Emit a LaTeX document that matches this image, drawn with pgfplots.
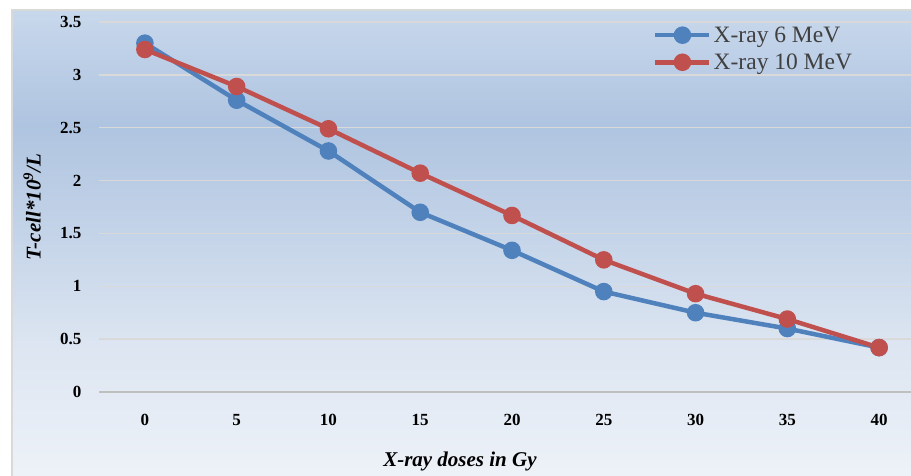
\documentclass[border=0pt]{standalone}
\usepackage{pgfplots}
\pgfplotsset{compat=1.18}
\usepackage{fontspec}
\setmainfont{Liberation Serif}
\definecolor{c6}{HTML}{4F81BD}
\definecolor{c10}{HTML}{C0504D}
\definecolor{gridc}{HTML}{D9D9D9}
\definecolor{axisc}{HTML}{BFBFBF}
\definecolor{legtext}{HTML}{404040}
\definecolor{bg0}{HTML}{EFF3F9}
\definecolor{bg1}{HTML}{DCE5F1}
\definecolor{bg2}{HTML}{C3D3E8}
\definecolor{bg3}{HTML}{AFC4E0}
\definecolor{bg4}{HTML}{C8D8EC}
\pgfdeclareverticalshading{chartbg}{100bp}{color(0bp)=(bg0); color(25bp)=(bg0); color(40bp)=(bg1); color(52bp)=(bg2); color(63bp)=(bg3); color(75bp)=(bg4); color(100bp)=(bg4)}
\begin{document}
\begin{tikzpicture}[x=1pt,y=1pt]
\shade[shading=chartbg] (12,-10) rectangle (930,466);
\draw[line width=1.5pt,color=gridc] (12,-10) -- (12,466) -- (930,466);
\begin{axis}[
  at={(99pt,84pt)}, anchor=south west,
  scale only axis, width=826pt, height=370pt,
  xmin=-0.5, xmax=8.5, ymin=0, ymax=3.5,
  xtick={0,1,2,3,4,5,6,7,8},
  xticklabels={0,5,10,15,20,25,30,35,40},
  ytick={0,0.5,1,1.5,2,2.5,3,3.5},
  yticklabels={0,0.5,1,1.5,2,2.5,3,3.5},
  major tick length=0pt,
  axis x line*=bottom,
  axis y line*=left,
  y axis line style={draw=none},
  x axis line style={color=axisc, line width=1.2pt, -},
  ymajorgrids,
  grid style={line width=1.5pt, color=gridc},
  ticklabel style={font=\fontsize{17}{20}\selectfont\bfseries, text=black},
  xticklabel style={yshift=-19pt},
  yticklabel style={xshift=-14pt},
  xlabel={X-ray doses in Gy},
  ylabel={T-cell*10\textsuperscript{9}/L},
  label style={font=\fontsize{21}{25}\selectfont\bfseries\itshape},
  xlabel style={at={(rel axis cs:0.437,-0.189)}, anchor=center},
  ylabel style={at={(rel axis cs:-0.0811,0.5)}, anchor=center},
  legend style={at={(rel axis cs:0.6707,1.0015)}, anchor=north west, draw=none, fill=none,
    font=\fontsize{23.5}{28}\selectfont, text=legtext, inner sep=0pt,
    nodes={inner xsep=2pt, inner ysep=5pt}},
  legend cell align=left,
  legend image code/.code={\draw[mark repeat=2,mark phase=2,#1] plot coordinates {(0pt,0pt) (27pt,0pt) (54pt,0pt)};},
  every axis plot/.append style={line width=4.5pt, mark=*, mark size=6.5pt, mark options={solid}},
]
\addplot[color=c6] coordinates {(0,3.30) (1,2.76) (2,2.28) (3,1.70) (4,1.34) (5,0.95) (6,0.75) (7,0.60) (8,0.42)};
\addplot[color=c10] coordinates {(0,3.24) (1,2.89) (2,2.49) (3,2.07) (4,1.67) (5,1.25) (6,0.93) (7,0.69) (8,0.42)};
\legend{X-ray 6 MeV, X-ray 10 MeV}
\end{axis}
\pgfresetboundingbox
\useasboundingbox (0,0) rectangle (911,476);
\end{tikzpicture}
\end{document}
